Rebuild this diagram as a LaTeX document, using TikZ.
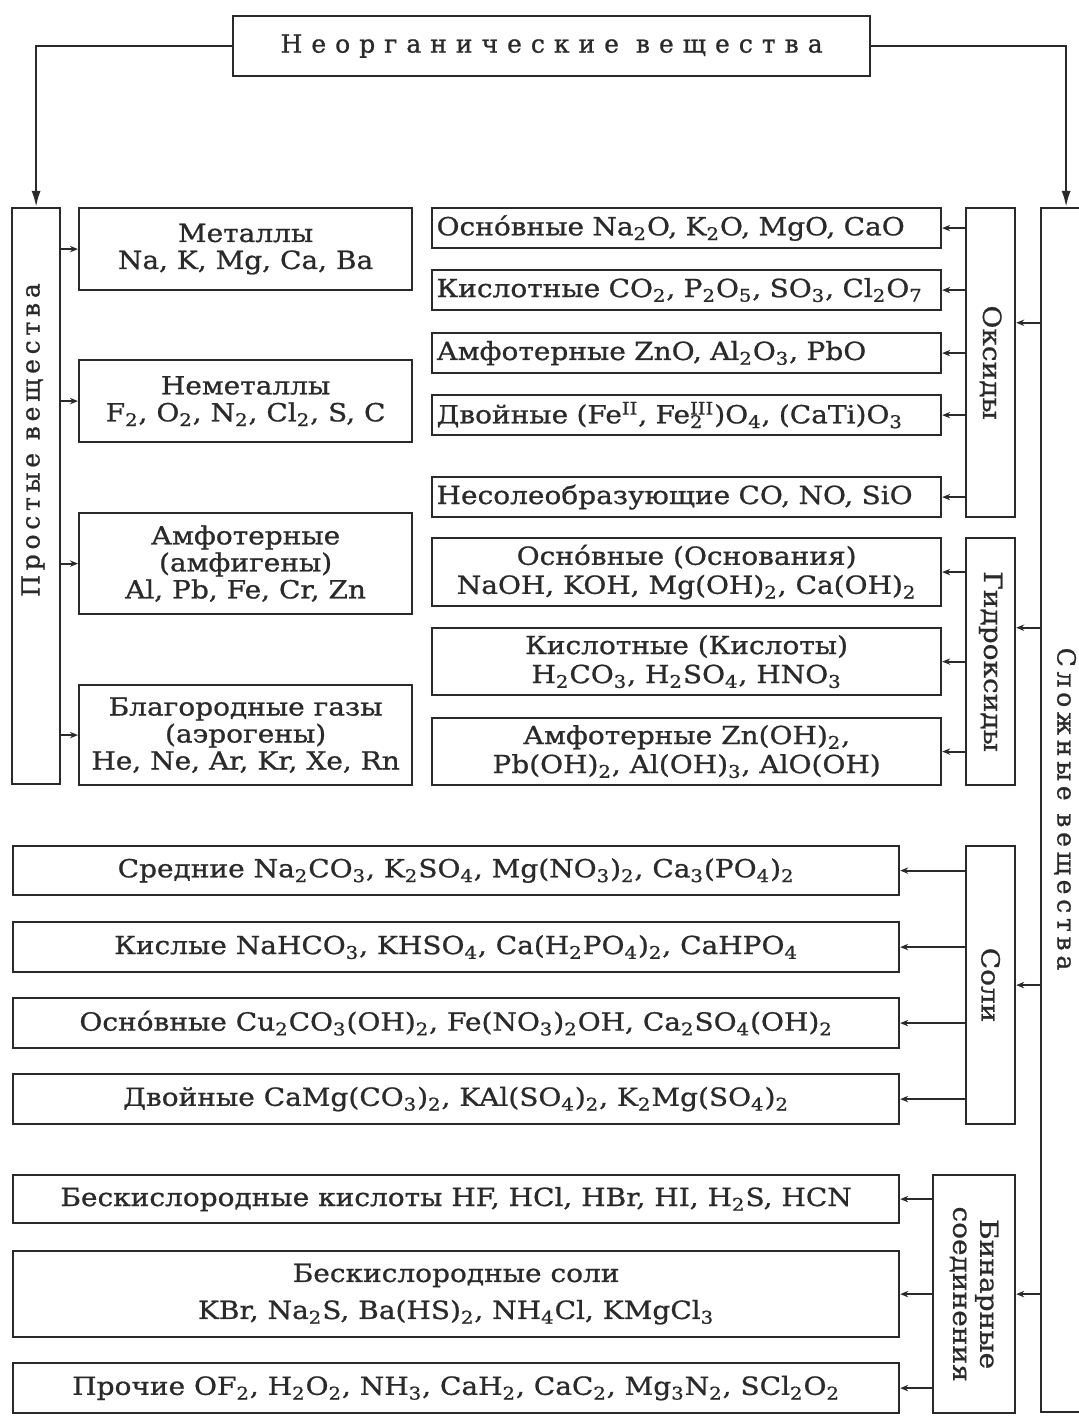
\documentclass[tikz,border=0pt]{standalone}
\usepackage{fontspec}
\setmainfont{DejaVu Serif}[FakeStretch=1.12, FakeBold=0.9]
\newfontfamily\spacedfont{DejaVu Serif}[FakeStretch=1.0, FakeBold=0.9, LetterSpace=36]
\newfontfamily\sidefont{DejaVu Serif}[FakeStretch=1.0, FakeBold=0.9, LetterSpace=19]
\usetikzlibrary{arrows.meta,calc}
\definecolor{ink}{HTML}{2A2A2A}
\tikzset{
box/.style={draw=ink, line width=1.1pt, inner sep=1pt, align=center,
  text=ink, font=\fontsize{12.5}{13.5}\selectfont},
dims/.style 2 args={minimum width=#1*0.5pt, minimum height=#2*0.5pt},
lefttext/.style={text width=#1*0.5pt, align=left},
vtext/.style={text=ink, font=\fontsize{12.5}{13.5}\selectfont, align=center},
arr/.style={draw=ink, line width=1pt, -{Stealth[length=4pt,width=3.2pt]}},
bigarr/.style={draw=ink, line width=1.1pt, -{Latex[length=8pt,width=4.5pt]}}
}
\newcommand{\su}[1]{\textsubscript{#1}}

\begin{document}
\begin{tikzpicture}[x=0.5pt, y=-0.5pt]
\useasboundingbox (0,0) rectangle (1078,1417);

% root
\node[box, dims={637}{60}, anchor=north west] (root) at (232,15)
  {\spacedfont Неорганические вещества};

% simple substances
\node[box, dims={48}{576}, anchor=north west] (simple) at (11,207) {};
\node[vtext, rotate=90] (simple-t) at (33,440) {\sidefont Простые вещества};
\node[box, dims={333}{82}, anchor=north west] (met) at (78,207)
  {Металлы\\Na, K, Mg, Ca, Ba};
\node[box, dims={333}{82}, anchor=north west] (nonmet) at (78,359)
  {Неметаллы\\F\su{2}, O\su{2}, N\su{2}, Cl\su{2}, S, C};
\node[box, dims={333}{101}, anchor=north west] (amph) at (78,512)
  {Амфотерные\\(амфигены)\\Al, Pb, Fe, Cr, Zn};
\node[box, dims={333}{100}, anchor=north west] (noble) at (78,684)
  {Благородные газы\\(аэрогены)\\He, Ne, Ar, Kr, Xe, Rn};

% complex substances
\node[box, dims={50}{1204}, anchor=north west] (complex) at (1040,207) {};
\node[vtext, rotate=-90] (complex-t) at (1065,809) {\sidefont Сложные вещества};

% oxides
\node[box, dims={49}{309}, anchor=north west] (oxid) at (965,207) {};
\node[vtext, rotate=-90] (oxid-t) at (oxid.center) {Оксиды};
\node[box, dims={509}{40}, lefttext=500, anchor=north west] (ox1) at (431,207)
  {Осно́вные Na\su{2}O, K\su{2}O, MgO, CaO};
\node[box, dims={509}{40}, lefttext=500, anchor=north west] (ox2) at (431,269)
  {Кислотные CO\su{2}, P\su{2}O\su{5}, SO\su{3}, Cl\su{2}O\su{7}};
\node[box, dims={509}{40}, lefttext=500, anchor=north west] (ox3) at (431,332)
  {Амфотерные ZnO, Al\su{2}O\su{3}, PbO};
\node[box, dims={509}{40}, lefttext=500, anchor=north west] (ox4) at (431,394)
  {Двойные (Fe\textsuperscript{II}, Fe\rlap{\su{2}}\textsuperscript{III})O\su{4}, (CaTi)O\su{3}};
\node[box, dims={509}{40}, lefttext=500, anchor=north west] (ox5) at (431,476)
  {Несолеобразующие CO, NO, SiO};

% hydroxides
\node[box, dims={49}{247}, anchor=north west] (hydr) at (965,537) {};
\node[vtext, rotate=-90] (hydr-t) at (hydr.center) {Гидроксиды};
\node[box, dims={509}{68}, anchor=north west, font=\fontsize{12.5}{14.5}\selectfont] (hy1) at (431,537)
  {Осно́вные (Основания)\\NaOH, KOH, Mg(OH)\su{2}, Ca(OH)\su{2}};
\node[box, dims={509}{67}, anchor=north west, font=\fontsize{12.5}{14.5}\selectfont] (hy2) at (431,627)
  {Кислотные (Кислоты)\\H\su{2}CO\su{3}, H\su{2}SO\su{4}, HNO\su{3}};
\node[box, dims={509}{67}, anchor=north west, font=\fontsize{12.5}{14.5}\selectfont] (hy3) at (431,717)
  {Амфотерные Zn(OH)\su{2},\\Pb(OH)\su{2}, Al(OH)\su{3}, AlO(OH)};

% salts
\node[box, dims={49}{278}, anchor=north west] (salt) at (965,845) {};
\node[vtext, rotate=-90] (salt-t) at (salt.center) {Соли};
\node[box, dims={886}{49}, anchor=north west] (sa1) at (12,845)
  {Средние Na\su{2}CO\su{3}, K\su{2}SO\su{4}, Mg(NO\su{3})\su{2}, Ca\su{3}(PO\su{4})\su{2}};
\node[box, dims={886}{50}, anchor=north west] (sa2) at (12,921)
  {Кислые NaHCO\su{3}, KHSO\su{4}, Ca(H\su{2}PO\su{4})\su{2}, CaHPO\su{4}};
\node[box, dims={886}{50}, anchor=north west] (sa3) at (12,997)
  {Осно́вные Cu\su{2}CO\su{3}(OH)\su{2}, Fe(NO\su{3})\su{2}OH, Ca\su{2}SO\su{4}(OH)\su{2}};
\node[box, dims={886}{50}, anchor=north west] (sa4) at (12,1073)
  {Двойные CaMg(CO\su{3})\su{2}, KAl(SO\su{4})\su{2}, K\su{2}Mg(SO\su{4})\su{2}};

% binary compounds
\node[box, dims={82}{238}, anchor=north west] (bin) at (932,1174) {};
\node[vtext, rotate=-90] (bin-t) at (bin.center) {Бинарные\\соединения};
\node[box, dims={886}{48}, anchor=north west] (bi1) at (12,1174)
  {Бескислородные кислоты HF, HCl, HBr, HI, H\su{2}S, HCN};
\node[box, dims={886}{86}, anchor=north west, font=\fontsize{12.5}{18.5}\selectfont] (bi2) at (12,1250)
  {Бескислородные соли\\KBr, Na\su{2}S, Ba(HS)\su{2}, NH\su{4}Cl, KMgCl\su{3}};
\node[box, dims={886}{50}, anchor=north west] (bi3) at (12,1362)
  {Прочие OF\su{2}, H\su{2}O\su{2}, NH\su{3}, CaH\su{2}, CaC\su{2}, Mg\su{3}N\su{2}, SCl\su{2}O\su{2}};

% connectors
\draw[bigarr] (root.west) -| (simple.north);
\draw[bigarr] (root.east) -| (complex.north);

\draw[arr] (simple.east |- met.west) -- (met.west);
\draw[arr] (simple.east |- nonmet.west) -- (nonmet.west);
\draw[arr] (simple.east |- amph.west) -- (amph.west);
\draw[arr] (simple.east |- noble.west) -- (noble.west);

\coordinate (oxid-in) at ($(oxid.north east)!0.372!(oxid.south east)$);
\coordinate (hydr-in) at ($(hydr.north east)!0.364!(hydr.south east)$);
\draw[arr] (complex.west |- oxid-in) -- (oxid-in);
\draw[arr] (complex.west |- hydr-in) -- (hydr-in);
\draw[arr] (complex.west |- salt.east) -- (salt.east);
\draw[arr] (complex.west |- bin.east) -- (bin.east);

\draw[arr] (oxid.west |- ox1.east) -- (ox1.east);
\draw[arr] (oxid.west |- ox2.east) -- (ox2.east);
\draw[arr] (oxid.west |- ox3.east) -- (ox3.east);
\draw[arr] (oxid.west |- ox4.east) -- (ox4.east);
\draw[arr] (oxid.west |- ox5.east) -- (ox5.east);

\draw[arr] (hydr.west |- hy1.east) -- (hy1.east);
\draw[arr] (hydr.west |- hy2.east) -- (hy2.east);
\draw[arr] (hydr.west |- hy3.east) -- (hy3.east);

\draw[arr] (salt.west |- sa1.east) -- (sa1.east);
\draw[arr] (salt.west |- sa2.east) -- (sa2.east);
\draw[arr] (salt.west |- sa3.east) -- (sa3.east);
\draw[arr] (salt.west |- sa4.east) -- (sa4.east);

\draw[arr] (bin.west |- bi1.east) -- (bi1.east);
\draw[arr] (bin.west |- bi2.east) -- (bi2.east);
\draw[arr] (bin.west |- bi3.east) -- (bi3.east);
\end{tikzpicture}
\end{document}
